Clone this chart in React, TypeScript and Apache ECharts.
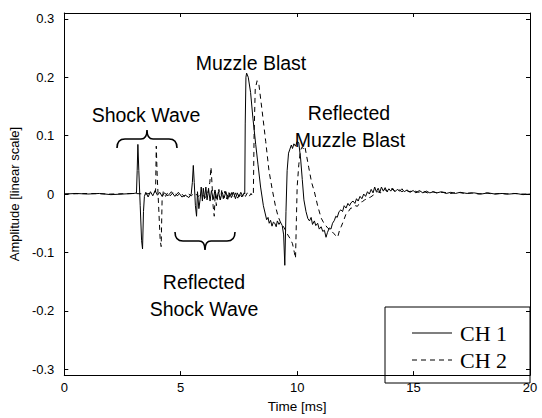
import React, { useEffect, useRef } from "react";
import * as echarts from "echarts";

const xTicks = [0, 5, 10, 15, 20];
const yTicks = [-0.3, -0.2, -0.1, 0, 0.1, 0.2, 0.3];
const seriesNames = ["CH 1", "CH 2"];

// CH 1 (solid) : [time ms, amplitude]
const ch1Data: [number, number][] = [
  [0, 0], [0.5, 0.001], [1.0, 0.0], [1.5, 0.001], [2.0, -0.001], [2.5, 0.0], [3.0, 0.001], [3.1, 0.002],
  [3.13, 0.04], [3.16, 0.085], [3.2, 0.04], [3.26, -0.02], [3.32, -0.08], [3.36, -0.094], [3.4, -0.03],
  [3.44, -0.004], [3.5, 0.003], [3.6, -0.005], [3.7, 0.004], [3.8, -0.003], [3.9, 0.006], [4.0, -0.002],
  [4.1, 0.003], [4.2, -0.004], [4.3, 0.002], [4.45, -0.003], [4.6, 0.004], [4.75, -0.004], [4.9, 0.003],
  [5.05, -0.005], [5.2, -0.002], [5.35, -0.006], [5.45, 0.0], [5.5, 0.02], [5.54, 0.049], [5.58, 0.02],
  [5.63, -0.02], [5.68, -0.038], [5.72, 0.004], [5.78, -0.025], [5.83, -0.01], [5.88, 0.012], [5.93, -0.012],
  [5.97, 0.01], [6.02, -0.008], [6.08, 0.012], [6.13, -0.01], [6.2, 0.008], [6.26, -0.012], [6.32, 0.006],
  [6.4, -0.009], [6.47, 0.007], [6.55, -0.008], [6.62, 0.004], [6.7, -0.01], [6.78, 0.003], [6.86, -0.007],
  [6.94, 0.004], [7.02, -0.009], [7.1, 0.002], [7.18, -0.006], [7.27, 0.003], [7.35, -0.008], [7.43, 0.002],
  [7.5, -0.005], [7.58, 0.003], [7.66, -0.004], [7.72, 0.002], [7.75, 0.0], [7.77, 0.12], [7.8, 0.2],
  [7.83, 0.207], [7.9, 0.2], [8.0, 0.174], [8.1, 0.13], [8.22, 0.085], [8.32, 0.05], [8.43, 0.012],
  [8.55, -0.02], [8.69, -0.044], [8.75, -0.04], [8.8, -0.05], [8.86, -0.045], [8.92, -0.055], [8.98, -0.048],
  [9.04, -0.05], [9.1, -0.056], [9.15, -0.046], [9.22, -0.052], [9.28, -0.048], [9.36, -0.054], [9.42, -0.07],
  [9.47, -0.122], [9.52, -0.03], [9.57, 0.04], [9.63, 0.07], [9.69, 0.077], [9.75, 0.084], [9.8, 0.078],
  [9.86, 0.086], [9.93, 0.082], [10.0, 0.09], [10.07, 0.088], [10.15, 0.06], [10.22, 0.025], [10.29, -0.01],
  [10.38, -0.03], [10.46, -0.042], [10.53, -0.046], [10.6, -0.04], [10.66, -0.052], [10.74, -0.046],
  [10.8, -0.054], [10.88, -0.05], [10.95, -0.06], [11.03, -0.056], [11.1, -0.064], [11.17, -0.062],
  [11.24, -0.074], [11.3, -0.066], [11.38, -0.058], [11.45, -0.06], [11.52, -0.05], [11.6, -0.045],
  [11.66, -0.038], [11.72, -0.04], [11.8, -0.03], [11.88, -0.027], [11.95, -0.03], [12.02, -0.02],
  [12.1, -0.024], [12.18, -0.016], [12.25, -0.02], [12.31, -0.015], [12.4, -0.012], [12.48, -0.016],
  [12.55, -0.008], [12.62, -0.012], [12.7, -0.004], [12.78, -0.008], [12.86, 0.0], [12.94, -0.004],
  [13.02, 0.004], [13.1, 0.0], [13.18, 0.008], [13.26, 0.002], [13.33, 0.012], [13.4, 0.004], [13.48, 0.01],
  [13.55, 0.003], [13.62, 0.012], [13.7, 0.005], [13.78, 0.011], [13.86, 0.004], [13.94, 0.009],
  [14.02, 0.005], [14.1, 0.01], [14.2, 0.004], [14.3, 0.008], [14.4, 0.005], [14.5, 0.009], [14.6, 0.004],
  [14.72, 0.007], [14.85, 0.003], [14.98, 0.006], [15.1, 0.002], [15.25, 0.006], [15.4, 0.002],
  [15.55, 0.005], [15.7, 0.002], [15.85, 0.004], [16.0, 0.002], [16.2, 0.004], [16.4, 0.001], [16.6, 0.003],
  [16.8, 0.001], [17.0, 0.003], [17.3, 0.001], [17.6, 0.002], [17.9, 0.0], [18.2, 0.002], [18.5, 0.0],
  [18.8, 0.001], [19.1, 0.0], [19.4, 0.001], [19.7, -0.001], [20, 0.0],
];

// CH 2 (dashed) : [time ms, amplitude]
const ch2Data: [number, number][] = [
  [0, 0], [1.0, 0.001], [2.0, 0.0], [3.0, 0.001], [3.5, 0.0], [3.8, 0.002], [3.92, 0.004], [3.95, 0.082],
  [3.99, 0.03], [4.05, -0.02], [4.12, -0.08], [4.16, -0.09], [4.2, -0.01], [4.25, 0.004], [4.35, -0.004],
  [4.45, 0.003], [4.55, -0.003], [4.7, 0.004], [4.85, -0.003], [5.0, 0.002], [5.15, -0.004], [5.3, 0.001],
  [5.45, -0.003], [5.6, 0.002], [5.75, -0.004], [5.9, 0.0], [6.05, -0.006], [6.15, 0.0], [6.25, 0.02],
  [6.3, 0.046], [6.34, 0.02], [6.39, -0.02], [6.44, -0.038], [6.48, 0.002], [6.53, -0.02], [6.58, -0.006],
  [6.64, 0.008], [6.7, -0.01], [6.76, 0.006], [6.83, -0.008], [6.9, 0.005], [6.97, -0.008], [7.05, 0.004],
  [7.12, -0.007], [7.2, 0.003], [7.28, -0.006], [7.36, 0.002], [7.45, -0.007], [7.53, 0.002], [7.62, -0.005],
  [7.7, 0.001], [7.78, -0.004], [7.86, 0.002], [7.94, -0.004], [8.02, 0.001], [8.08, -0.003], [8.12, 0.0],
  [8.15, 0.1], [8.2, 0.18], [8.28, 0.194], [8.35, 0.19], [8.5, 0.141], [8.65, 0.09], [8.79, 0.04],
  [8.92, 0.01], [9.07, -0.021], [9.18, -0.038], [9.29, -0.049], [9.4, -0.055], [9.5, -0.062], [9.6, -0.07],
  [9.71, -0.077], [9.8, -0.085], [9.88, -0.1], [9.93, -0.11], [9.97, -0.04], [10.0, 0.012], [10.07, 0.05],
  [10.14, 0.074], [10.2, 0.08], [10.27, 0.078], [10.33, 0.082], [10.38, 0.071], [10.5, 0.045], [10.62, 0.02],
  [10.74, 0.004], [10.88, -0.02], [11.03, -0.041], [11.15, -0.05], [11.31, -0.058], [11.45, -0.062],
  [11.58, -0.068], [11.74, -0.074], [11.82, -0.062], [11.9, -0.055], [12.0, -0.045], [12.09, -0.035],
  [12.2, -0.03], [12.3, -0.024], [12.4, -0.024], [12.5, -0.02], [12.59, -0.021], [12.7, -0.014],
  [12.8, -0.013], [12.9, -0.01], [13.0, -0.008], [13.16, -0.005], [13.3, -0.001], [13.45, 0.004],
  [13.6, 0.002], [13.75, 0.008], [13.9, 0.004], [14.05, 0.009], [14.2, 0.005], [14.35, 0.008],
  [14.5, 0.004], [14.65, 0.007], [14.8, 0.004], [15.0, 0.006], [15.2, 0.003], [15.4, 0.005], [15.6, 0.002],
  [15.8, 0.004], [16.0, 0.002], [16.3, 0.003], [16.6, 0.001], [16.9, 0.003], [17.2, 0.001], [17.5, 0.002],
  [17.8, 0.0], [18.1, 0.002], [18.4, 0.0], [18.7, 0.001], [19.0, 0.0], [19.3, 0.001], [19.6, 0.0], [20, 0.0],
];

const annotationTexts = ["Shock Wave", "Muzzle Blast", "Reflected", "Muzzle Blast", "Reflected", "Shock Wave"];
const annotationPos: [number, number][] = [
  [146, 115], [251, 63], [349, 113], [350, 140], [204, 282], [204, 309],
];

const braceUp = "M0,18 Q0,9 8,9 L24,9 Q30,9 30,0 Q30,9 36,9 L52,9 Q60,9 60,18";
const braceDown = "M0,0 Q0,9 8,9 L24,9 Q30,9 30,18 Q30,9 36,9 L52,9 Q60,9 60,0";

let registered = false;
function registerBraces() {
  if (registered) return;
  echarts.graphic.registerShape("braceUp", (echarts.graphic as any).extendPath(braceUp, {}));
  echarts.graphic.registerShape("braceDown", (echarts.graphic as any).extendPath(braceDown, {}));
  registered = true;
}

const SANS = "Liberation Sans, Arial, sans-serif";
const SERIF = "Liberation Serif, Times New Roman, serif";
const DASH = [5, 4];

export default function App() {
  const ref = useRef<HTMLDivElement>(null);
  useEffect(() => {
    document.body.style.margin = "0";
    registerBraces();
    const chart = echarts.init(ref.current!, null, { renderer: "svg" });
    const axisLine = { show: true, onZero: false, lineStyle: { color: "#000", width: 1 } };
    const tick = { show: true, inside: true, length: 4, lineStyle: { color: "#000", width: 1 } };
    const labelStyle = { color: "#000", fontSize: 13, fontFamily: SANS };
    const legendGraphic = {
      type: "group",
      x: 385,
      y: 307,
      z: 20,
      children: [
        { type: "rect", shape: { x: 0, y: 0, width: 145, height: 76 }, style: { fill: "none", stroke: "#000", lineWidth: 1 } },
        { type: "line", shape: { x1: 27, y1: 26, x2: 67, y2: 26 }, style: { stroke: "#000", lineWidth: 1.2 } },
        { type: "line", shape: { x1: 27, y1: 53, x2: 67, y2: 53 }, style: { stroke: "#000", lineWidth: 1.2, lineDash: DASH } },
        { type: "text", x: 75, y: 26, style: { text: seriesNames[0], fill: "#000", fontSize: 22, fontFamily: SERIF, align: "left", verticalAlign: "middle" } },
        { type: "text", x: 75, y: 53, style: { text: seriesNames[1], fill: "#000", fontSize: 22, fontFamily: SERIF, align: "left", verticalAlign: "middle" } },
      ],
    };
    const option: any = {
      animation: false,
      backgroundColor: "#fff",
      grid: { left: 62, right: 12, top: 13, bottom: 35, containLabel: false },
      xAxis: [
        {
          type: "value", min: 0, max: 20, interval: 5, position: "bottom",
          axisLine, axisTick: { ...tick, customValues: xTicks },
          axisLabel: { ...labelStyle, margin: 6, customValues: xTicks, formatter: (v: number) => String(v) },
          splitLine: { show: false },
          name: "Time [ms]", nameLocation: "middle", nameGap: 23,
          nameTextStyle: { color: "#000", fontSize: 13.5, fontFamily: SANS },
        },
        {
          type: "value", min: 0, max: 20, interval: 5, position: "top",
          axisLine, axisTick: { ...tick, customValues: xTicks }, axisLabel: { show: false },
          splitLine: { show: false },
        },
      ],
      yAxis: [
        {
          type: "value", min: -0.31, max: 0.31, position: "left",
          axisLine, axisTick: { ...tick, customValues: yTicks },
          axisLabel: { ...labelStyle, margin: 10, customValues: yTicks, formatter: (v: number) => String(v) },
          splitLine: { show: false },
          name: "Amplitude [linear scale]", nameLocation: "middle", nameGap: 33,
          nameTextStyle: { color: "#000", fontSize: 13, fontFamily: SANS },
        },
        {
          type: "value", min: -0.31, max: 0.31, position: "right",
          axisLine, axisTick: { ...tick, customValues: yTicks }, axisLabel: { show: false },
          splitLine: { show: false },
        },
      ],
      series: [
        {
          name: seriesNames[0], type: "line", data: ch1Data, symbol: "none", xAxisIndex: 0, yAxisIndex: 0,
          lineStyle: { color: "#000", width: 1 }, itemStyle: { color: "#000" }, z: 3,
        },
        {
          name: seriesNames[1], type: "line", data: ch2Data, symbol: "none", xAxisIndex: 0, yAxisIndex: 0,
          lineStyle: { color: "#000", width: 1, type: DASH }, itemStyle: { color: "#000" }, z: 2,
        },
      ],
      graphic: [
        ...annotationTexts.map((t, i) => ({
          type: "text",
          x: annotationPos[i][0],
          y: annotationPos[i][1],
          style: {
            text: t, fill: "#000", fontSize: 19.5, fontFamily: SANS,
            align: "center", verticalAlign: "middle",
          },
          z: 10,
        })),
        { type: "braceUp", x: 117, y: 130, style: { stroke: "#000", fill: null, lineWidth: 1.6 }, z: 10 },
        { type: "braceDown", x: 175, y: 232, style: { stroke: "#000", fill: null, lineWidth: 1.6 }, z: 10 },
        legendGraphic,
      ],
    };
    chart.setOption(option);
    return () => chart.dispose();
  }, []);
  return <div ref={ref} style={{ width: 542, height: 418 }} />;
}
